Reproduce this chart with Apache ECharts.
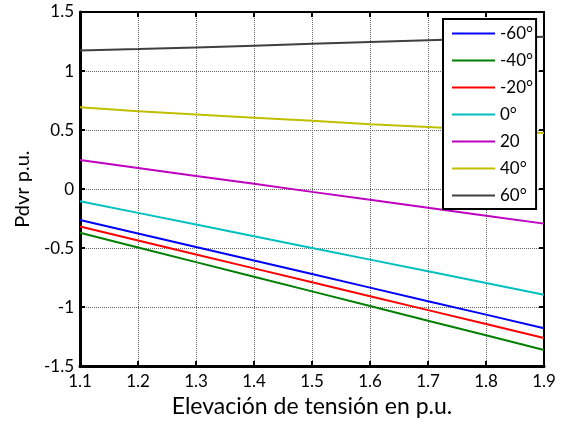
<!DOCTYPE html>
<html>
<head>
<meta charset="utf-8">
<script src="https://cdn.jsdelivr.net/npm/echarts@6/dist/echarts.min.js"></script>
<style>
  html, body { margin: 0; padding: 0; background: #fff; }
  #main { width: 569px; height: 423px; }
</style>
</head>
<body>
<div id="main"></div>
<script>
// Elevación de tensión (p.u.)
var xValues = [1.1, 1.2, 1.3, 1.4, 1.5, 1.6, 1.7, 1.8, 1.9];

// Pdvr p.u. para cada ángulo
var names = ['-60°', '-40°', '-20°', '0°', '20', '40°', '60°'];
var neg60 = [-0.262, -0.377, -0.491, -0.606, -0.720, -0.835, -0.950, -1.064, -1.179];
var neg40 = [-0.371, -0.495, -0.619, -0.743, -0.867, -0.991, -1.115, -1.239, -1.363];
var neg20 = [-0.318, -0.436, -0.554, -0.672, -0.790, -0.908, -1.026, -1.144, -1.262];
var zero  = [-0.103, -0.202, -0.301, -0.400, -0.499, -0.598, -0.697, -0.796, -0.895];
var pos20 = [0.246, 0.179, 0.111, 0.044, -0.024, -0.091, -0.158, -0.226, -0.293];
var pos40 = [0.693, 0.660, 0.632, 0.605, 0.578, 0.550, 0.525, 0.500, 0.475];
var pos60 = [1.173, 1.186, 1.200, 1.215, 1.230, 1.245, 1.260, 1.275, 1.290];

var yTicks = ['-1.5', '-1', '-0.5', '0', '0.5', '1', '1.5'];

var allValues = [neg60, neg40, neg20, zero, pos20, pos40, pos60];
var colors = ['#0000ff', '#008000', '#ff0000', '#00bfbf', '#bf00bf', '#bfbf00', '#404040'];

var font = 'Lato, "Open Sans", sans-serif';

var chart = echarts.init(document.getElementById('main'));

var series = names.map(function (n, i) {
    return {
        name: n,
        type: 'line',
        symbol: 'none',
        data: xValues.map(function (x, k) { return [x, allValues[i][k]]; }),
        lineStyle: { width: 2, color: colors[i] },
        itemStyle: { color: colors[i] },
        z: 3
    };
});

var gridLine = { show: true, lineStyle: { color: '#666', type: [1, 1], width: 1 } };

var option = {
    animation: false,
    backgroundColor: '#fff',
    grid: { left: 80, right: 25, top: 12, bottom: 53 },
    legend: {
        orient: 'vertical',
        left: 443,
        top: 19,
        padding: [6, 3, 5, 9],
        icon: 'rect',
        itemWidth: 43,
        itemHeight: 2,
        itemGap: 10,
        backgroundColor: '#fff',
        borderColor: '#000',
        borderWidth: 2,
        borderRadius: 0,
        textStyle: { fontSize: 17, lineHeight: 16.5, fontFamily: font, color: '#000' },
        data: names,
        z: 10
    },
    xAxis: [{
        type: 'value',
        min: 1.1,
        max: 1.9,
        interval: 0.1,
        name: 'Elevación de tensión en p.u.',
        nameLocation: 'middle',
        nameGap: 28,
        nameTextStyle: { fontSize: 23, fontFamily: font, color: '#000' },
        axisLine: { show: true, onZero: false, lineStyle: { color: '#000', width: 3 } },
        axisTick: { show: true, inside: true, length: 5, lineStyle: { color: '#000', width: 2 } },
        axisLabel: {
            fontSize: 17, fontFamily: font, color: '#000', margin: 7,
            formatter: function (v) { return v.toFixed(1); }
        },
        splitLine: gridLine
    }, {
        type: 'value',
        position: 'top',
        min: 1.1,
        max: 1.9,
        interval: 0.1,
        axisLine: { show: true, onZero: false, lineStyle: { color: '#000', width: 2 } },
        axisTick: { show: true, inside: true, length: 5, lineStyle: { color: '#000', width: 2 } },
        axisLabel: { show: false },
        splitLine: { show: false }
    }],
    yAxis: [{
        type: 'value',
        min: -1.5,
        max: 1.5,
        interval: 0.5,
        name: 'Pdvr p.u.',
        nameLocation: 'middle',
        nameGap: 47,
        nameTextStyle: { fontSize: 20, fontFamily: font, color: '#000' },
        axisLine: { show: true, onZero: false, lineStyle: { color: '#000', width: 3 } },
        axisTick: { show: true, inside: true, length: 5, lineStyle: { color: '#000', width: 2 } },
        axisLabel: {
            fontSize: 17, fontFamily: font, color: '#000', margin: 6,
            formatter: function (v) { return yTicks[Math.round((v + 1.5) / 0.5)]; }
        },
        splitLine: gridLine
    }, {
        type: 'value',
        position: 'right',
        min: -1.5,
        max: 1.5,
        interval: 0.5,
        axisLine: { show: true, onZero: false, lineStyle: { color: '#000', width: 2 } },
        axisTick: { show: true, inside: true, length: 5, lineStyle: { color: '#000', width: 2 } },
        axisLabel: { show: false },
        splitLine: { show: false }
    }],
    series: series
};

chart.setOption(option);
</script>
</body>
</html>
